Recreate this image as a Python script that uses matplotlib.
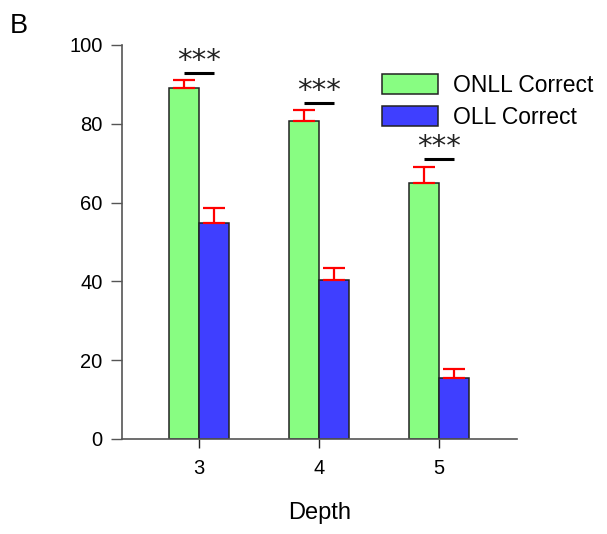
import matplotlib
matplotlib.use('Agg')
import matplotlib.pyplot as plt
import numpy as np

plt.rcParams['font.family'] = ['Liberation Sans', 'DejaVu Sans']

depths = [3, 4, 5]
onll_correct = [89.2, 80.8, 65.0]
onll_err = [1.9, 2.7, 4.1]
oll_correct = [54.7, 40.4, 15.4]
oll_err = [4.0, 2.9, 2.3]
sig_level = [92.8, 85.4, 71.0]
sig_text = ['***', '***', '***']

green = '#88fd82'
blue = '#3f3fff'
spine_gray = '#555555'

fig = plt.figure(figsize=(6.07, 5.34), dpi=100)
ax = fig.add_axes([122 / 607, 1 - 439 / 534, 395 / 607, 394 / 534])

x = np.array(depths, dtype=float)
w = 0.25
ax.bar(x - w / 2, onll_correct, w, color=green, edgecolor='#222222',
       linewidth=1.1, label='ONLL Correct', zorder=2)
ax.bar(x + w / 2, oll_correct, w, color=blue, edgecolor='#222222',
       linewidth=1.1, label='OLL Correct', zorder=2)

# upper half error bars only
ax.errorbar(x - w / 2, onll_correct, yerr=[np.zeros(3), onll_err], fmt='none',
            ecolor='red', elinewidth=1.6, capsize=8, capthick=1.6, zorder=3)
ax.errorbar(x + w / 2, oll_correct, yerr=[np.zeros(3), oll_err], fmt='none',
            ecolor='red', elinewidth=1.6, capsize=8, capthick=1.6, zorder=3)

# significance markers above each pair
for xi, lv, s in zip(x, sig_level, sig_text):
    ax.plot([xi - 0.125, xi + 0.125], [lv, lv], color='black', lw=2.2,
            solid_capstyle='butt', zorder=3)
    ax.text(xi, lv + 1.0, s, ha='center', va='baseline', fontsize=21,
            family='DejaVu Sans', color='#222222')

ax.set_xlim(2.36, 5.65)
ax.set_ylim(0, 100)
ax.set_xticks(depths)
ax.set_yticks([0, 20, 40, 60, 80, 100])
ax.tick_params(axis='y', length=8, width=1.0, color=spine_gray, pad=6,
               labelsize=14.5)
ax.tick_params(axis='x', length=6.5, width=1.0, color='#222222', pad=8,
               labelsize=14.5)
for side in ['top', 'right']:
    ax.spines[side].set_visible(False)
for side in ['left', 'bottom']:
    ax.spines[side].set_color(spine_gray)
    ax.spines[side].set_linewidth(1.2)

ax.set_xlabel('Depth', fontsize=17, labelpad=17)

ax.legend(loc='upper left', bbox_to_anchor=(382 / 607, 1 - 74 / 534),
          bbox_transform=fig.transFigure, frameon=False, fontsize=16.5,
          handlelength=2.45, handleheight=0.95, handletextpad=0.65,
          labelspacing=0.4, borderpad=0, borderaxespad=0)

fig.text(10 / 607, 1 - 33 / 534, 'B', fontsize=19.5, ha='left', va='baseline')

fig.savefig('out.png', dpi=100)
